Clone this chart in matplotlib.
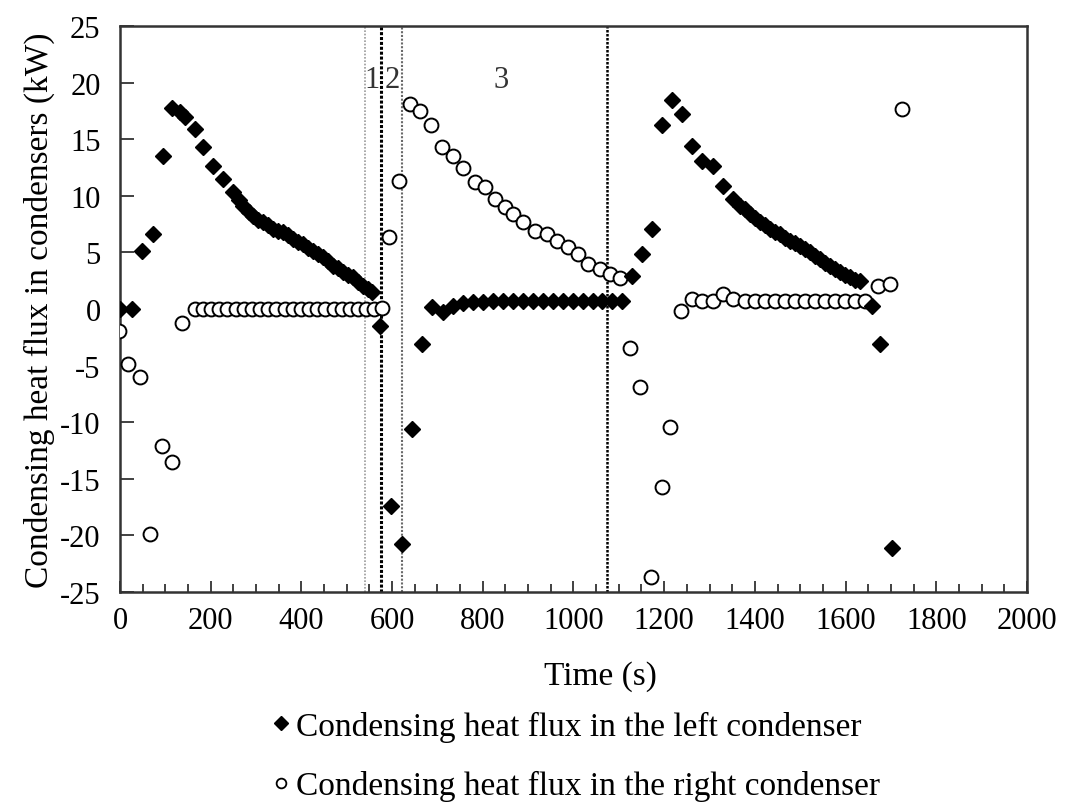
import matplotlib
matplotlib.use('Agg')
import matplotlib.pyplot as plt
from matplotlib.lines import Line2D

# time (s) and condensing heat flux (kW), left condenser (filled diamonds)
t_left = [0, 26, 48, 72, 94, 114, 132, 143, 165, 184, 205, 227, 250, 262, 272,
          284, 294, 305, 316, 327, 338, 349, 360, 371, 382, 393, 404, 415, 426,
          437, 448, 459, 470, 481, 492, 503, 514, 525, 536, 546, 555,
          573, 597, 622, 644, 666,
          688, 712, 734, 756, 778, 800, 822, 844, 866, 888, 910, 932, 954, 976,
          998, 1020, 1042, 1064, 1086, 1107,
          1129, 1151, 1173, 1195, 1217, 1239, 1261, 1283, 1308, 1330, 1352,
          1367, 1378, 1389, 1400, 1411, 1422, 1433, 1444, 1455, 1466, 1477,
          1488, 1499, 1510, 1521, 1532, 1543, 1554, 1565, 1576, 1588, 1599,
          1610, 1621, 1632, 1658, 1676, 1702]
q_left = [0.0, 0.0, 5.1, 6.6, 13.5, 17.8, 17.4, 17.0, 15.9, 14.3, 12.6, 11.5, 10.3, 9.6, 9.1,
          8.6, 8.2, 7.9, 7.7, 7.4, 7.1, 6.9, 6.8, 6.5, 6.2, 5.9, 5.7, 5.4, 5.1,
          4.9, 4.6, 4.2, 3.8, 3.6, 3.3, 3.0, 2.8, 2.4, 2.0, 1.8, 1.5,
          -1.5, -17.4, -20.8, -10.6, -3.1,
          0.2, -0.3, 0.3, 0.5, 0.6, 0.6, 0.7, 0.7, 0.7, 0.7, 0.7, 0.7, 0.7, 0.7,
          0.7, 0.7, 0.7, 0.7, 0.7, 0.7,
          2.9, 4.9, 7.1, 16.3, 18.5, 17.2, 14.4, 13.1, 12.6, 10.9, 9.7,
          9.1, 8.8, 8.4, 8.0, 7.7, 7.4, 7.1, 6.8, 6.6, 6.3, 6.0,
          5.8, 5.6, 5.3, 5.0, 4.7, 4.4, 4.1, 3.8, 3.5, 3.3, 3.0,
          2.8, 2.6, 2.5, 0.3, -3.1, -21.1]

# right condenser (open circles)
t_right = [-2, 18, 44, 66, 92, 114, 136,
           165, 183, 201, 219, 237, 255, 273, 291, 309, 327, 345, 363, 381,
           399, 417, 435, 453, 471, 489, 507, 525, 543, 560, 577,
           594, 615, 640, 662, 685, 710, 735, 756, 782, 805, 827, 849, 867,
           889, 915, 941, 963, 988, 1010, 1032, 1058, 1080, 1103,
           1125, 1147, 1171, 1195, 1213,
           1237, 1261, 1283, 1308, 1330, 1352, 1378, 1400, 1422, 1444, 1466,
           1488, 1510, 1532, 1554, 1576, 1598, 1620, 1642,
           1672, 1698, 1724]
q_right = [-1.9, -4.9, -6.0, -19.9, -12.1, -13.5, -1.2,
           0.0, 0.0, 0.0, 0.0, 0.0, 0.0, 0.0, 0.0, 0.0, 0.0, 0.0, 0.0, 0.0,
           0.0, 0.0, 0.0, 0.0, 0.0, 0.0, 0.0, 0.0, 0.0, 0.0, 0.1,
           6.4, 11.3, 18.1, 17.5, 16.3, 14.3, 13.5, 12.5, 11.2, 10.8, 9.7, 9.0, 8.4,
           7.7, 6.9, 6.6, 6.0, 5.5, 4.9, 4.0, 3.5, 3.1, 2.7,
           -3.4, -6.9, -23.7, -15.7, -10.4,
           -0.2, 0.9, 0.7, 0.7, 1.3, 0.9, 0.7, 0.7, 0.7, 0.7, 0.7,
           0.7, 0.7, 0.7, 0.7, 0.7, 0.7, 0.7, 0.7,
           2.0, 2.2, 17.7]

# phase boundaries and phase labels
phase_lines = [540, 575, 622, 1075]
phase_names = ['1', '2', '3']
phase_label_t = [556, 600, 840]

plt.rcParams['font.family'] = ['Liberation Serif', 'DejaVu Serif']
plt.rcParams['font.size'] = 22
plt.rcParams['axes.unicode_minus'] = False

fig = plt.figure(figsize=(10.7, 8.04), dpi=100)
ax = fig.add_axes([0.1121, 0.2624, 0.8477, 0.7040])

ax.axvline(phase_lines[0], color='#9a9a9a', lw=1.2, ls=(0, (1, 1)), zorder=1)
ax.axvline(phase_lines[1], color='black', lw=2.2, ls=(0, (1, 0.6)), zorder=1)
ax.axvline(phase_lines[2], color='#6a6a6a', lw=1.5, ls=(0, (1, 0.8)), zorder=1)
ax.axvline(phase_lines[3], color='black', lw=1.8, ls=(0, (1, 0.6)), zorder=1)

for name, tx in zip(phase_names, phase_label_t):
    ax.text(tx, 20.3, name, ha='center', va='center', fontsize=22, color='#333333')

ax.plot(t_right, q_right, 'o', ms=10, mfc='white', mec='black', mew=1.4,
        ls='none', zorder=3)
ax.plot(t_left, q_left, 'D', ms=8.5, mfc='black', mec='black', ls='none', zorder=4)

ax.set_xlim(0, 2000)
ax.set_ylim(-25, 25)
ax.set_xticks(range(0, 2001, 200))
ax.set_xticks(range(0, 2001, 50), minor=True)
ax.set_yticks(range(-25, 26, 5))
ax.tick_params(axis='x', which='major', direction='in', length=8, width=1.3, pad=10,
               labelsize=22, color='#333333')
ax.tick_params(axis='x', which='minor', direction='in', length=6, width=1.3, color='#333333')
ax.tick_params(axis='y', direction='in', length=10, width=1.3, pad=14, labelsize=22,
               color='#333333')
for s in ax.spines.values():
    s.set_linewidth(1.8)
    s.set_color('#333333')

ax.set_xlabel('Time (s)', fontsize=24)
ax.xaxis.set_label_coords(0.53, -0.12)
ax.set_ylabel('Condensing heat flux in condensers (kW)', fontsize=24)
ax.yaxis.set_label_coords(-0.072, 0.5)

handles = [Line2D([], [], marker='D', ls='none', color='black', ms=7),
           Line2D([], [], marker='o', ls='none', mfc='white', mec='black', mew=1.3, ms=7)]
fig.legend(handles, ['Condensing heat flux in the left condenser',
                     'Condensing heat flux in the right condenser'],
           loc='upper left', bbox_to_anchor=(0.225, 0.152),
           bbox_transform=fig.transFigure, frameon=False, fontsize=24,
           handlelength=0.6, handletextpad=0.15, labelspacing=0.85)

fig.savefig('out.png', dpi=100)
plt.close(fig)
